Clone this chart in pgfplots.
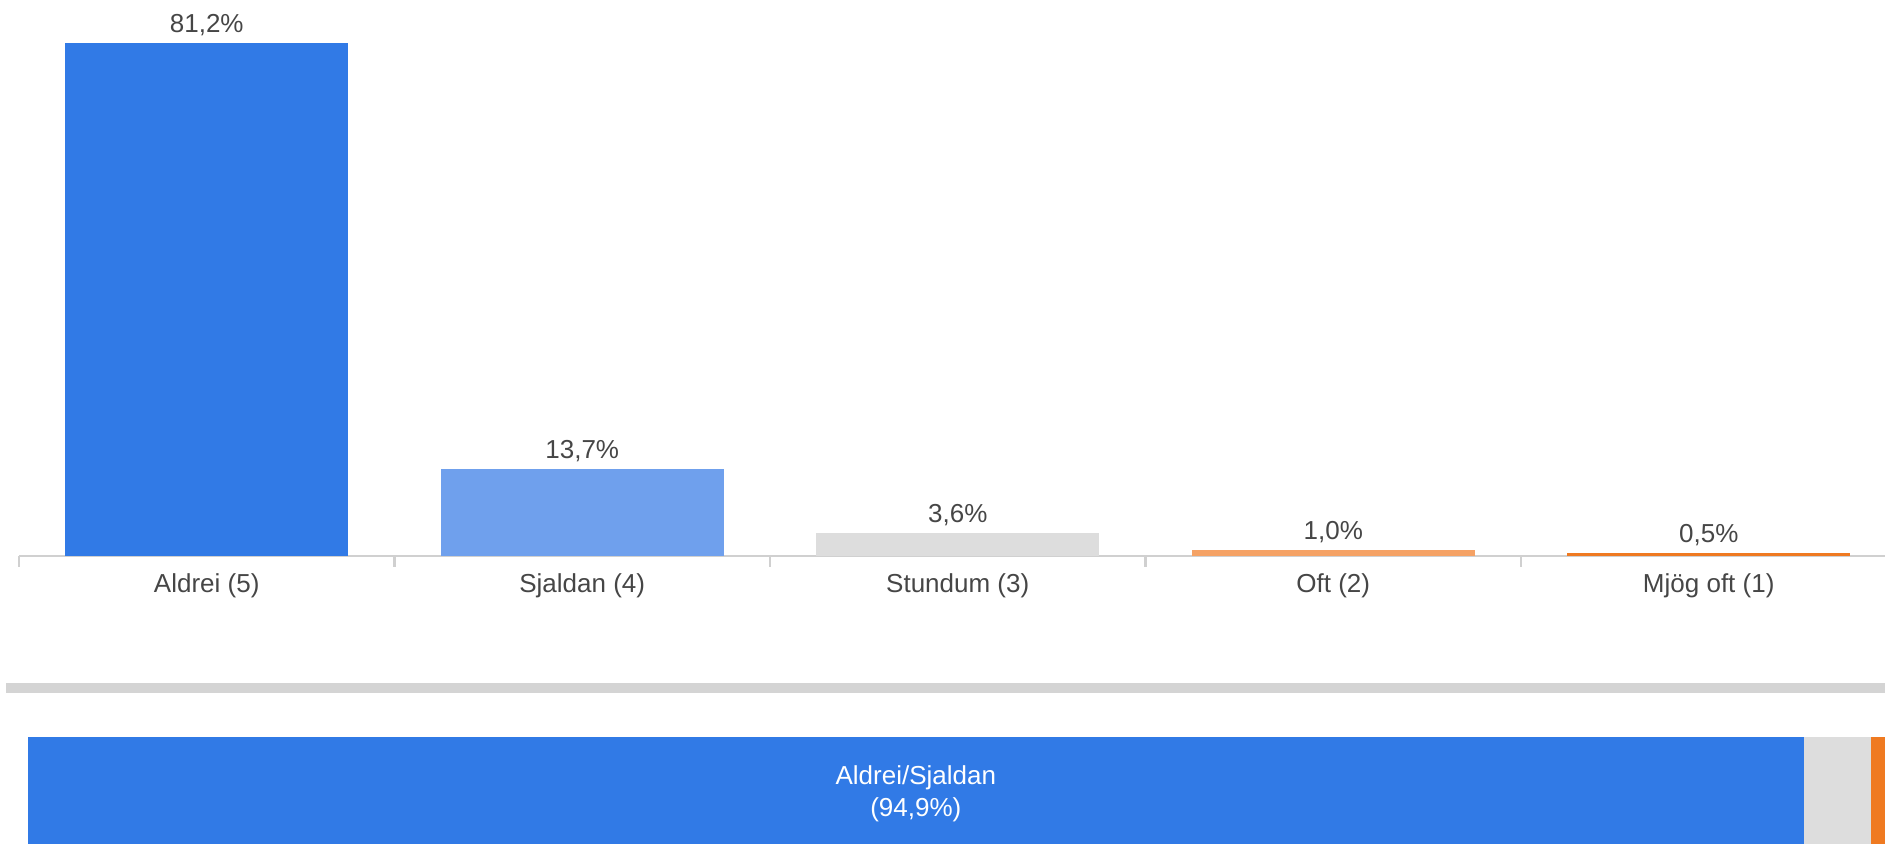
\documentclass[border=0pt]{standalone}
\usepackage{pgfplots}
\pgfplotsset{compat=1.18}
\usepackage{fontspec}
\setmainfont{Liberation Sans}
\definecolor{cblue}{RGB}{49,122,230}
\definecolor{clblue}{RGB}{111,160,237}
\definecolor{cgrey}{RGB}{221,221,221}
\definecolor{clorange}{RGB}{245,162,101}
\definecolor{corange}{RGB}{239,122,33}
\definecolor{caxis}{RGB}{208,208,208}
\definecolor{csep}{RGB}{212,212,212}
\definecolor{ctext}{RGB}{70,70,70}
\newcommand{\lblfont}{\fontsize{7.4}{9.1}\selectfont}
\begin{document}
\begin{tikzpicture}
\useasboundingbox (0,0) rectangle (18.85cm,8.44cm);
\clip (0,0) rectangle (18.85cm,8.44cm);
\fill[csep] (0.06cm,1.51cm) rectangle (18.85cm,1.61cm);
\begin{axis}[
  at={(0.19cm,2.88cm)}, anchor=south west,
  scale only axis, width=18.775cm, height=5.56cm,
  xmin=-0.5, xmax=4.5, ymin=0, ymax=87.97,
  axis y line=none, axis x line=bottom,
  axis line style={-, draw=caxis, line width=0.45pt},
  xtick={0,...,4},
  xticklabels={Aldrei (5),Sjaldan (4),Stundum (3),Oft (2),Mjög oft (1)},
  major tick length=0pt,
  extra x ticks={-0.5,0.5,1.5,2.5,3.5,4.5},
  extra x tick labels={},
  extra x tick style={major tick length=0.11cm, tick align=outside,
     tick style={draw=caxis, line width=0.6pt}},
  xticklabel style={font=\lblfont, text=ctext, yshift=-0.05cm},
  /pgf/number format/assume math mode=true,
  ybar, bar width=2.83cm,
  nodes near coords={\pgfmathprintnumber[fixed,fixed zerofill,precision=1,use comma,assume math mode=true]{\pgfplotspointmeta}\%},
  nodes near coords style={font=\lblfont, text=ctext, anchor=south, inner sep=0pt, yshift=0.065cm},
  clip=false,
]
\addplot[fill=cblue, draw=none, bar shift=0pt] coordinates {(0,81.2)};
\addplot[fill=clblue, draw=none, bar shift=0pt] coordinates {(1,13.7)};
\addplot[fill=cgrey, draw=none, bar shift=0pt] coordinates {(2,3.6)};
\addplot[fill=clorange, draw=none, bar shift=0pt] coordinates {(3,1.0)};
\addplot[fill=corange, draw=none, bar shift=0pt] coordinates {(4,0.5)};
\end{axis}
\begin{axis}[
  at={(0.28cm,0cm)}, anchor=south west,
  scale only axis, width=18.71cm, height=1.07cm,
  xmin=0, xmax=100, ymin=-0.5, ymax=0.5,
  hide axis, xbar stacked, bar width=1.07cm, clip=false,
]
\addplot[fill=cblue, draw=none] coordinates {(94.9,0)};
\addplot[fill=cgrey, draw=none] coordinates {(3.6,0)};
\addplot[fill=corange, draw=none] coordinates {(1.5,0)};
\coordinate (lab) at (axis cs:47.45,0);
\end{axis}
\node[text=white, align=center, font=\lblfont, inner sep=0pt, yshift=-0.035cm] at (lab) {Aldrei/Sjaldan\\(94,9\%)};
\end{tikzpicture}
\end{document}
